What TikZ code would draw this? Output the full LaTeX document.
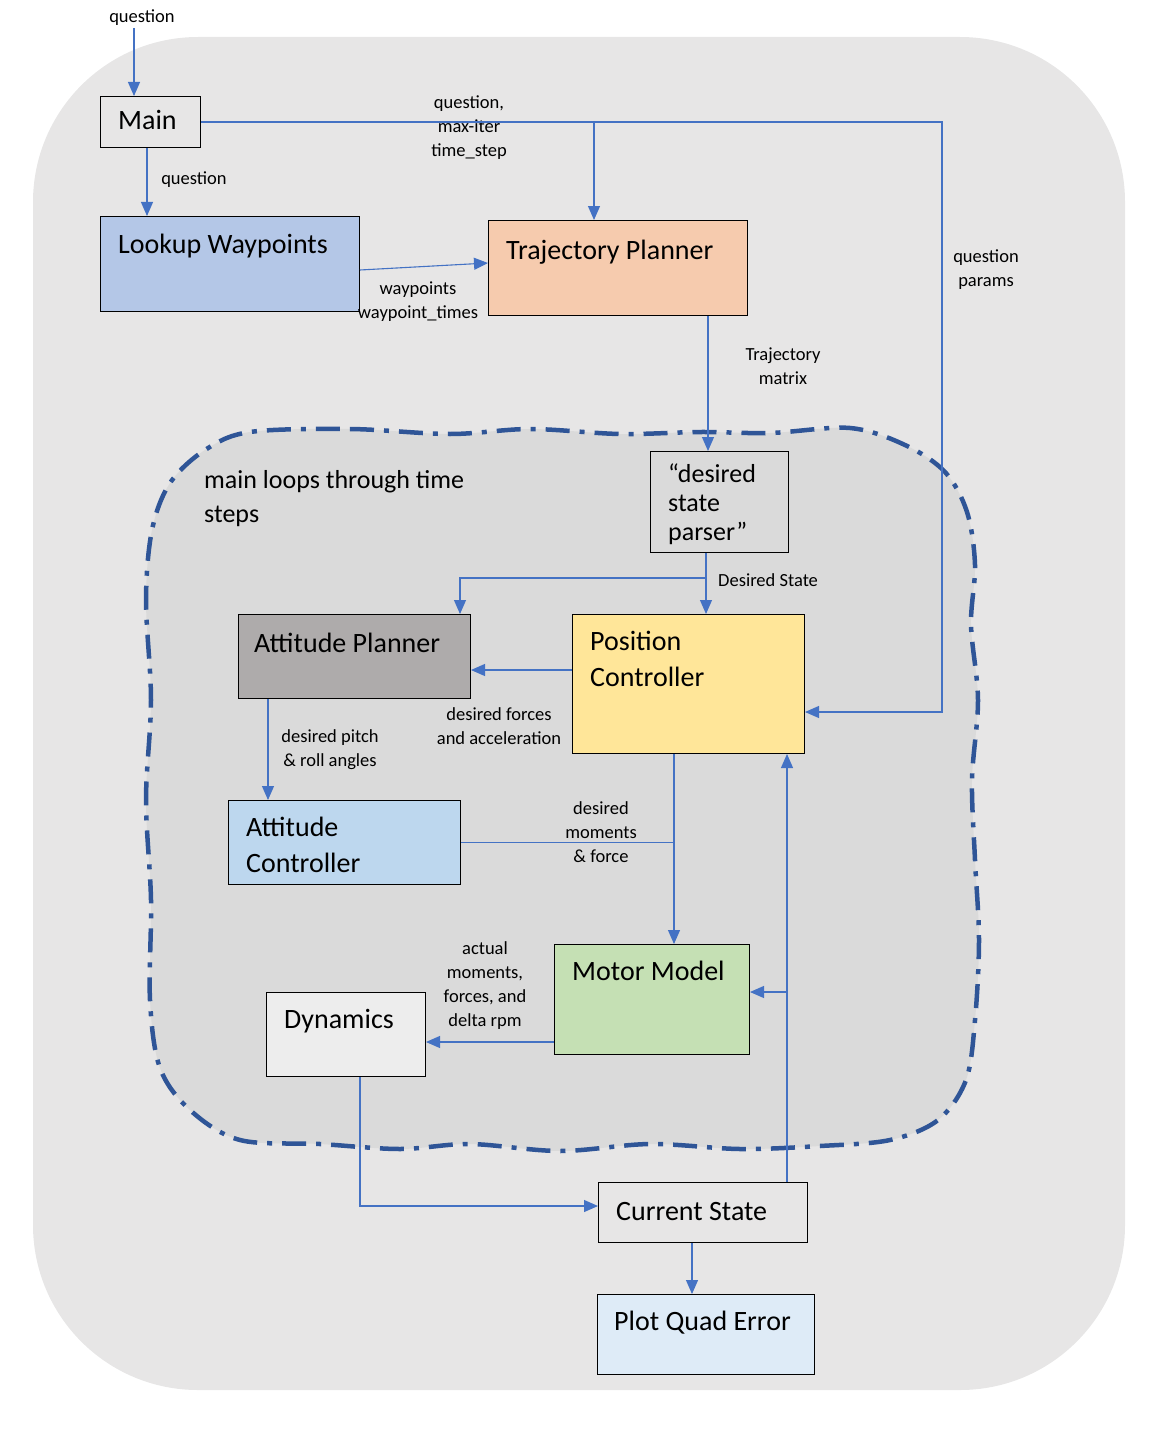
\documentclass[tikz,border=0pt]{standalone}
\usepackage{fontspec}
\setmainfont{Carlito}
\usetikzlibrary{arrows.meta,calc}
\definecolor{outerbg}{HTML}{E7E6E6}
\definecolor{innerbg}{HTML}{DADADA}
\definecolor{lookupc}{HTML}{B4C7E7}
\definecolor{trajc}{HTML}{F6CBAE}
\definecolor{attplc}{HTML}{AEABAB}
\definecolor{posc}{HTML}{FFE699}
\definecolor{attctc}{HTML}{BDD7EE}
\definecolor{motorc}{HTML}{C5E0B4}
\definecolor{dync}{HTML}{EDEDED}
\definecolor{plotc}{HTML}{DEEBF7}
\definecolor{ablue}{HTML}{4472C4}
\definecolor{dblue}{HTML}{2F5597}
\tikzset{
 box/.style={draw=black, line width=1pt, anchor=north west, inner sep=0pt},
 arr/.style={draw=ablue, line width=1.1pt, -{Triangle[length=14pt,width=12pt]}},
 ln/.style={draw=ablue, line width=1.1pt},
 big/.style={font=\fontsize{28}{36}\selectfont, anchor=base west, inner sep=0pt},
 mid/.style={font=\fontsize{26}{29}\selectfont, anchor=base west, inner sep=0pt},
 lbl/.style={font=\fontsize{18.5}{24}\selectfont, align=center, inner sep=0pt},
}
\begin{document}
\begin{tikzpicture}[x=1pt,y=-1pt]
\useasboundingbox (0,0) rectangle (1152,1434);
% outer background
\fill[outerbg, rounded corners=165pt] (33,37) rectangle (1125,1390);
% inner loop region
\filldraw[fill=innerbg, draw=dblue, line width=4.5pt, dash pattern=on 24pt off 10pt on 5pt off 10pt]
 plot[smooth cycle, tension=0.55] coordinates {
 (250,432) (350,429) (450,434) (530,429) (620,434) (700,432) (770,433) (850,428)
 (905,445) (945,472) (967,512) (975,565) (971,625) (978,700) (972,780) (975,860)
 (979,940) (975,1020) (966,1080) (938,1120) (890,1140) (820,1146) (740,1149)
 (650,1144) (560,1151) (470,1144) (400,1149) (320,1144) (240,1140) (190,1110)
 (160,1068) (150,1000) (151,900) (146,800) (151,700) (146,600) (152,530)
 (170,483) (205,450)};
% boxes
\node[box, minimum width=100, minimum height=51] (main) at (100,96) {};
\node[box, fill=lookupc, minimum width=259, minimum height=95] (lookup) at (100,216) {};
\node[box, fill=trajc, minimum width=259, minimum height=95] (traj) at (488,220) {};
\node[box, minimum width=138, minimum height=101] (parser) at (650,451) {};
\node[box, fill=attplc, minimum width=232, minimum height=84] (attpl) at (238,614) {};
\node[box, fill=posc, minimum width=232, minimum height=139] (pos) at (572,614) {};
\node[box, fill=attctc, minimum width=232, minimum height=84] (attct) at (228,800) {};
\node[box, fill=motorc, minimum width=195, minimum height=110] (motor) at (554,944) {};
\node[box, fill=dync, minimum width=159, minimum height=84] (dyn) at (266,992) {};
\node[box, minimum width=209, minimum height=60] (cs) at (598,1182) {};
\node[box, fill=plotc, minimum width=217, minimum height=80] (plot) at (597,1294) {};
% box texts
\node[big] (tmain) at (118,130) {Main};
\node[big] (tlookup) at (118,253) {Lookup Waypoints};
\node[big] (ttraj) at (506,259) {Trajectory Planner};
\node[mid] (tpar1) at (668,482) {“desired};
\node[mid] (tpar2) at (668,511) {state};
\node[mid] (tpar3) at (668,540) {parser”};
\node[mid] (tloop1) at (204,488) {main loops through time};
\node[mid] (tloop2) at (204,522) {steps};
\node[big] (tattpl) at (254,652) {Attitude Planner};
\node[big] (tpos1) at (590,650) {Position};
\node[big] (tpos2) at (590,686) {Controller};
\node[big] (tattct1) at (246,836) {Attitude};
\node[big] (tattct2) at (246,872) {Controller};
\node[big] (tmotor) at (572,980) {Motor Model};
\node[big] (tdyn) at (284,1028) {Dynamics};
\node[big] (tcs) at (616,1220) {Current State};
\node[big] (tplot) at (614,1330) {Plot Quad Error};
% labels
\node[lbl] (lq0) at (142,18) {question};
\node[lbl] (lq1) at (194,180) {question};
\node[lbl] (lqm) at (469,128) {question,\\max-iter\\time\_step};
\node[lbl] (lwp) at (418,302) {waypoints\\waypoint\_times};
\node[lbl] (lqp) at (986,270) {question\\params};
\node[lbl] (ltm) at (783,366) {Trajectory\\matrix};
\node[lbl, anchor=west] (lds) at (718,580) {Desired State};
\node[lbl] (ldf) at (499,726) {desired forces\\and acceleration};
\node[lbl] (ldp) at (330,750) {desired pitch\\\& roll angles};
\node[lbl] (ldm) at (601,832) {desired\\moments\\\& force};
\node[lbl] (lam) at (485,986) {actual\\moments,\\forces, and\\delta rpm};
% helper coordinates
\coordinate (qin) at (134,28);
\coordinate (xa) at (147,0);
\coordinate (xb) at (594,0);
\coordinate (qp) at (942,712);
\coordinate (xt) at (708,0);
\coordinate (ds) at (706,578);
\coordinate (xap) at (460,0);
\coordinate (yp) at (0,670);
\coordinate (xac) at (268,0);
\coordinate (xm) at (674,0);
\coordinate (ym) at (0,1042);
\coordinate (xd) at (360,0);
\coordinate (yc) at (0,1206);
\coordinate (xcs) at (787,0);
\coordinate (ymr) at (0,992);
\coordinate (xpl) at (692,0);
% connectors
\draw[arr] (qin) -- (qin |- main.north);
\draw[arr] (main.south -| xa) -- (lookup.north -| xa);
\draw[arr] (main.east) -| (qp) -- (qp -| pos.east);
\draw[arr] (main.east -| xb) -- (traj.north -| xb);
\draw[arr] ($(lookup.east)+(0,6)$) -- ($(traj.west)+(0,-5)$);
\draw[arr] (traj.south -| xt) -- (parser.north -| xt);
\draw[arr] (parser.south -| ds) -- (pos.north -| ds);
\draw[arr] (ds) -| (attpl.north -| xap);
\draw[arr] (pos.west |- yp) -- (attpl.east |- yp);
\draw[arr] (attpl.south -| xac) -- (attct.north -| xac);
\draw[ln] (attct.east) -- (attct.east -| xm);
\draw[arr] (pos.south -| xm) -- (motor.north -| xm);
\draw[arr] (motor.west |- ym) -- (dyn.east |- ym);
\draw[arr] (dyn.south -| xd) |- (cs.west |- yc);
\draw[arr] (cs.north -| xcs) -- (pos.south -| xcs);
\draw[arr] (xcs |- ymr) -- (motor.east |- ymr);
\draw[arr] (cs.south -| xpl) -- (plot.north -| xpl);
\end{tikzpicture}
\end{document}
